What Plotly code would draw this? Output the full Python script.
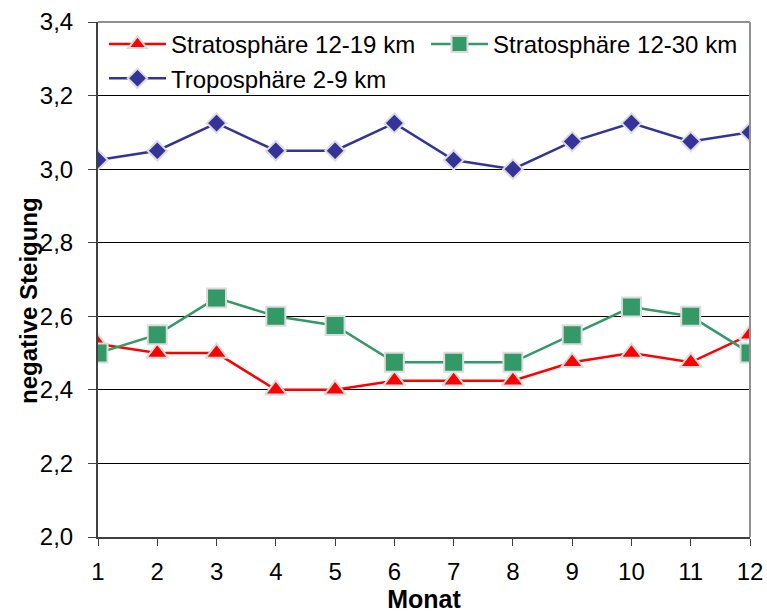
import plotly.graph_objects as go

months = list(range(1, 13))
strato_12_19 = [2.525, 2.5, 2.5, 2.4, 2.4, 2.425, 2.425, 2.425, 2.475, 2.5, 2.475, 2.55]
strato_12_30 = [2.5, 2.55, 2.65, 2.6, 2.575, 2.475, 2.475, 2.475, 2.55, 2.625, 2.6, 2.5]
tropo_2_9 = [3.025, 3.05, 3.125, 3.05, 3.05, 3.125, 3.025, 3.0, 3.075, 3.125, 3.075, 3.1]
y_ticks = [2.0, 2.2, 2.4, 2.6, 2.8, 3.0, 3.2, 3.4]

FONT = "Arial, 'Liberation Sans', sans-serif"
outline = dict(color="#dcdcdc", width=2)

fig = go.Figure()
fig.add_trace(go.Scatter(
    x=months, y=strato_12_19, name="Stratosphäre 12-19 km", mode="lines+markers",
    line=dict(color="#ff0000", width=2.5),
    marker=dict(symbol="triangle-up", size=19, color="#ff0000", line=outline)))
fig.add_trace(go.Scatter(
    x=months, y=strato_12_30, name="Stratosphäre 12-30 km", mode="lines+markers",
    line=dict(color="#339966", width=2.5),
    marker=dict(symbol="square", size=19, color="#339966", line=outline)))
fig.add_trace(go.Scatter(
    x=months, y=tropo_2_9, name="Troposphäre 2-9 km", mode="lines+markers",
    line=dict(color="#333399", width=2.5),
    marker=dict(symbol="diamond", size=15, color="#333399", line=outline)))

fig.update_layout(
    width=767, height=615,
    margin=dict(l=98, r=17, t=22, b=78),
    paper_bgcolor="white", plot_bgcolor="white",
    separators=",.",
    font=dict(family=FONT, size=24, color="black"),
    showlegend=True,
    legend=dict(orientation="h", x=0.0092, y=1.0, xanchor="left", yanchor="top",
                font=dict(family=FONT, size=24), bgcolor="rgba(0,0,0,0)",
                entrywidth=250, itemwidth=57, tracegroupgap=0),
    xaxis=dict(range=[1, 12], tickmode="array", tickvals=months, automargin=False,
               ticks="outside", ticklen=7, tickcolor="#404040",
               showline=True, linecolor="#404040", linewidth=2,
               showgrid=False, zeroline=False,
               tickfont=dict(size=24), ticklabelstandoff=5,
               title=dict(text="<b>Monat</b>", font=dict(size=25), standoff=0)),
    yaxis=dict(range=[2.0, 3.4], tickmode="array", tickvals=y_ticks, automargin=False,
               tickformat=".1f",
               ticks="outside", ticklen=8, tickcolor="#404040",
               showline=True, linecolor="#404040", linewidth=2,
               showgrid=True, gridcolor="black", gridwidth=1, zeroline=False,
               tickfont=dict(size=24), ticklabelstandoff=10),
    annotations=[
        dict(text="<b>negative Steigung</b>", xref="paper", yref="paper",
             x=(28 - 98) / 652, y=(537 - 301) / 515, xanchor="center", yanchor="middle",
             textangle=-90, showarrow=False, font=dict(family=FONT, size=24)),
    ],
    shapes=[
        dict(type="line", xref="paper", yref="paper", x0=0, x1=1, y0=1, y1=1,
             line=dict(color="#909090", width=2)),
        dict(type="line", xref="paper", yref="paper", x0=1, x1=1, y0=0, y1=1,
             line=dict(color="#909090", width=2)),
    ],
)

fig.write_html("out.html")
